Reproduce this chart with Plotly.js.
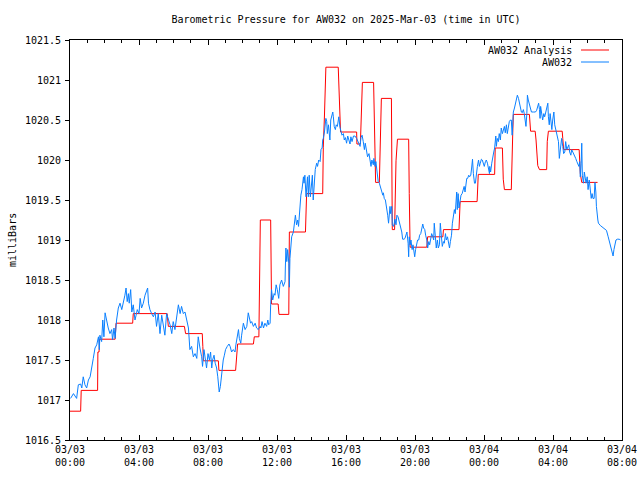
<!DOCTYPE html>
<html>
<head>
<meta charset="utf-8">
<script src="https://cdn.plot.ly/plotly-3.0.1.min.js"></script>
<style>html,body{margin:0;padding:0;background:#fff;}#chart{width:640px;height:480px;}</style>
</head>
<body>
<div id="chart"></div>
<script>
// Observations (AW032): minutes after 2025-03-03 00:00 UTC, pressure in mb
const obsMin = [2,12,23,29,37,41,46,52,58,64,70,75,81,87,93,99,102,104,110,114,118,122,128,133,139,145,148,153,157,162,168,174,180,186,191,195,199,203,206,211,215,220,226,230,234,240,244,249,255,261,267,270,273,278,284,290,296,301,307,313,319,325,330,336,342,348,354,359,365,371,377,383,388,394,400,406,412,417,423,429,435,441,446,452,458,461,466,472,475,480,485,
489,493,496,501,505,510,514,516,519,523,526,530,533,537,541,547,553,557,562,568,574,577,582,586,589,594,597,603,609,615,620,624,628,632,638,644,649,655,661,664,668,673,678,684,688,691,696,698,701,705,710,713,717,721,726,730,736,742,748,
749,751,754,757,761,763,765,768,771,777,780,784,788,792,795,800,803,807,812,814,817,821,823,826,829,832,836,839,843,846,850,853,858,861,865,870,873,877,879,881,885,888,890,893,895,899,902,904,907,910,914,916,919,923,926,930,935,939,943,946,951,954,958,962,966,969,974,977,981,986,991,997,1003,1009,1012,1016,1020,1024,1027,1032,1035,1040,1044,1047,1050,1055,1057,1061,1064,1069,1072,
1076,1081,1084,1088,1090,1093,1097,1101,1105,1108,1111,1113,1115,1119,1121,1125,1128,1130,1134,1137,1141,1144,1148,1150,1154,1157,1162,1165,1169,1172,1176,1178,1180,1183,1186,1190,1193,1197,1199,1202,1206,1209,1213,1216,1220,1223,1227,1230,1234,1237,1241,1244,1248,1251,1255,1258,1262,1265,1267,1271,1274,1278,1281,1285,1288,1292,1295,1299,1302,1306,1309,1313,1316,1320,1323,1327,1330,1333,1337,1340,1343,1345,1347,1350,1353,1357,1360,1364,1367,1371,1374,1378,1380,1383,1387,1390,1394,1397,1400,1403,1407,1410,1414,1417,1421,1424,1427,1431,1434,1438,1441,1445,1448,1452,1455,1459,
1460,1463,1467,1470,1474,1477,1481,1483,1486,1490,1493,1497,1500,1504,1507,1511,1514,1518,1521,1525,1528,1532,1535,1538,1540,1542,1546,1549,1553,1556,1560,1563,1567,1570,1573,1577,1580,1584,1586,1589,1591,1594,1598,1601,1605,1612,1619,1623,1627,1630,1633,1635,1637,1641,1644,1648,1651,1655,1658,1662,1664,1667,1670,1672,1676,1679,1683,1686,1689,1693,1695,1699,1702,1705,1707,1710,1714,1717,1721,1724,1728,1731,1735,1738,1742,1745,1749,1752,1756,1759,1763,1766,1770,1773,1775,1778,1780,1782,1786,1789,1795,1799,1802,1806,1809,1813,1816,1819,1823,1826,1829,1831,1836,1838,1845,1852,1859,1866,1872,1878,1882,1886,1889,1892,1896,1899,1904,1910,1915];
const obsVal = [1017.02,1017.08,1017.02,1017.19,1017.20,1017.15,1017.29,1017.19,1017.15,1017.25,1017.29,1017.42,1017.52,1017.65,1017.69,1017.79,1017.63,1017.81,1017.73,1018.00,1017.79,1018.09,1017.96,1017.90,1017.83,1017.88,1017.75,1017.90,1017.77,1018.00,1018.15,1018.21,1018.13,1018.21,1018.31,1018.40,1018.23,1018.33,1018.21,1018.38,1018.10,1018.19,1018.00,1018.06,1018.13,1018.08,1018.27,1018.15,1018.21,1018.31,1018.38,1018.40,1018.21,1018.13,1018.08,1018.04,1018.10,1017.92,1018.08,1017.83,1018.06,1017.90,1017.81,1018.08,1018.02,1017.94,1017.83,1017.98,1017.88,1018.04,1018.19,1018.08,1018.17,1018.08,1018.10,1018.00,1017.90,1017.63,1017.67,1017.54,1017.58,1017.52,1017.79,1017.65,1017.54,1017.42,1017.63,1017.48,1017.40,1017.58,1017.50,
1017.60,1017.40,1017.50,1017.56,1017.46,1017.40,1017.29,1017.17,1017.10,1017.17,1017.29,1017.40,1017.50,1017.56,1017.63,1017.67,1017.70,1017.67,1017.60,1017.63,1017.60,1017.69,1017.81,1017.88,1017.77,1017.71,1017.81,1017.96,1017.88,1017.92,1018.09,1018.04,1017.96,1017.98,1017.92,1017.96,1017.90,1017.88,1017.92,1017.90,1017.98,1017.90,1017.96,1017.92,1018.00,1017.94,1017.96,1018.19,1018.38,1018.25,1018.33,1018.31,1018.44,1018.38,1018.27,1018.44,1018.50,1018.42,1018.48,
1018.65,1018.90,1018.73,1018.88,1018.71,1018.41,1018.77,1018.92,1019.04,1019.10,1019.17,1019.31,1019.19,1019.25,1019.17,1019.42,1019.56,1019.63,1019.79,1019.71,1019.81,1019.54,1019.65,1019.79,1019.54,1019.81,1019.54,1019.71,1019.81,1019.50,1019.73,1019.88,1019.96,1019.92,1020.00,1019.98,1020.13,1020.15,1020.25,1020.27,1020.35,1020.44,1020.52,1020.48,1020.33,1020.44,1020.31,1020.25,1020.50,1020.54,1020.60,1020.54,1020.42,1020.38,1020.44,1020.42,1020.54,1020.41,1020.35,1020.31,1020.33,1020.25,1020.28,1020.21,1020.30,1020.25,1020.20,1020.29,1020.23,1020.30,1020.30,1020.27,1020.23,1020.17,1020.28,1020.31,1020.23,1020.13,1020.21,1020.13,1020.04,1020.08,1020.00,1019.92,1020.00,1019.94,1020.02,1019.92,1019.98,1019.83,1019.73,
1019.71,1019.65,1019.60,1019.56,1019.59,1019.52,1019.50,1019.42,1019.31,1019.21,1019.42,1019.42,1019.33,1019.42,1019.19,1019.17,1019.21,1019.26,1019.19,1019.31,1019.29,1019.25,1019.21,1019.17,1019.10,1019.01,1019.01,1019.02,1019.08,1019.10,1018.96,1018.79,1019.04,1018.94,1019.00,1018.88,1018.94,1018.83,1018.79,1018.88,1018.96,1019.00,1019.00,1019.06,1019.08,1019.15,1019.20,1019.15,1019.13,1019.06,1019.00,1018.90,1018.98,1018.94,1019.00,1019.08,1019.04,1019.00,1019.21,1018.98,1018.90,1019.00,1018.90,1018.94,1019.21,1019.04,1018.92,1018.98,1018.96,1019.08,1019.00,1019.04,1018.96,1018.90,1018.98,1019.06,1019.21,1019.29,1019.38,1019.33,1019.46,1019.60,1019.38,1019.58,1019.40,1019.50,1019.56,1019.58,1019.63,1019.67,1019.60,1019.69,1019.77,1019.77,1019.81,1019.79,1019.81,1019.90,1020.01,1019.83,1019.71,1019.71,1019.88,1019.92,1020.00,1019.92,1019.96,1020.01,1020.00,1019.96,1019.92,1019.98,1020.00,1019.96,1019.90,1019.83,
1019.92,1019.85,1019.96,1020.04,1020.10,1020.15,1020.30,1020.17,1020.27,1020.23,1020.33,1020.25,1020.40,1020.33,1020.38,1020.42,1020.34,1020.44,1020.33,1020.44,1020.48,1020.50,1020.50,1020.31,1020.44,1020.60,1020.65,1020.69,1020.75,1020.81,1020.77,1020.71,1020.67,1020.60,1020.59,1020.63,1020.58,1020.50,1020.42,1020.58,1020.81,1020.75,1020.69,1020.63,1020.60,1020.60,1020.60,1020.62,1020.67,1020.71,1020.63,1020.52,1020.67,1020.58,1020.50,1020.58,1020.54,1020.60,1020.67,1020.71,1020.54,1020.44,1020.58,1020.48,1020.38,1020.50,1020.60,1020.44,1020.38,1020.35,1020.27,1020.23,1020.02,1020.15,1020.13,1020.27,1020.17,1020.08,1020.10,1020.23,1020.13,1020.17,1020.19,1020.10,1020.06,1020.13,1020.10,1020.08,1020.06,1020.02,1019.98,1019.96,1019.92,1019.98,1019.79,1019.96,1020.21,1019.81,1019.71,1019.85,1019.71,1019.79,1019.63,1019.75,1019.65,1019.52,1019.58,1019.52,1019.52,1019.72,1019.60,1019.42,1019.25,1019.21,1019.18,1019.16,1019.14,1019.12,1019.04,1018.96,1018.88,1018.82,1018.80,1018.88,1018.95,1019.00,1019.01,1019.01,1019.00];

// Analysis (AW032 Analysis): minutes after 2025-03-03 00:00 UTC, pressure in mb
const anaMin = [0,37,39,96,97,101,103,157,160,218,220,338,342,398,402,460,462,464,516,518,576,580,583,638,641,657,659,662,698,699,701,724,727,761,763,819,821,823,879,881,885,890,933,935,939,941,997,998,1010,1012,1015,1017,1056,1058,1063,1076,1080,1083,1118,1119,1121,1129,1131,1134,1139,1178,1180,1183,1241,1242,1244,1297,1299,1353,1357,1416,1420,1477,1479,1504,1507,1511,1535,1540,1542,1598,1602,1618,1621,1627,1633,1658,1660,1664,1712,1714,1717,1771,1775,1780,1835];
const anaVal = [1016.86,1016.86,1017.12,1017.12,1017.60,1017.60,1017.76,1017.76,1017.96,1017.96,1018.08,1018.08,1017.92,1017.92,1017.83,1017.83,1017.67,1017.49,1017.49,1017.37,1017.37,1017.63,1017.70,1017.70,1017.79,1017.79,1018.55,1019.25,1019.25,1018.73,1018.20,1018.20,1018.07,1018.07,1019.10,1019.10,1019.34,1019.58,1019.58,1020.16,1020.55,1021.16,1021.16,1020.96,1020.40,1020.35,1020.35,1020.20,1020.20,1020.38,1020.77,1020.97,1020.97,1020.67,1019.72,1019.72,1020.51,1020.77,1020.77,1019.96,1019.13,1019.13,1019.45,1019.99,1020.26,1020.26,1019.58,1018.91,1018.91,1018.98,1019.04,1019.04,1019.13,1019.13,1019.48,1019.48,1019.82,1019.82,1020.15,1020.15,1019.76,1019.63,1019.63,1020.34,1020.57,1020.57,1020.36,1020.36,1020.25,1019.93,1019.88,1019.88,1020.23,1020.36,1020.36,1020.27,1020.13,1020.13,1019.83,1019.72,1019.72];

const tickHours = [0,4,8,12,16,20,24,28,32];
const tickLabels = ['03/03<br>00:00','03/03<br>04:00','03/03<br>08:00','03/03<br>12:00','03/03<br>16:00','03/03<br>20:00','03/04<br>00:00','03/04<br>04:00','03/04<br>08:00'];
const seriesNames = ['AW032 Analysis','AW032'];
const seriesColors = ['#ff0000','#0a80ff'];

const base = Date.UTC(2025,2,3,0,0,0);
const toDate = m => new Date(base + m*60000).toISOString().slice(0,19).replace('T',' ');

const FONT = 'DejaVu Sans Mono, Liberation Mono, monospace';

const traces = [
  {x: anaMin.map(toDate), y: anaVal, type:'scatter', mode:'lines', name: seriesNames[0],
   line:{color: seriesColors[0], width:1}, showlegend:false},
  {x: obsMin.map(toDate), y: obsVal, type:'scatter', mode:'lines', name: seriesNames[1],
   line:{color: seriesColors[1], width:1}, showlegend:false}
];

const legY = [0.975, 0.945];
const layout = {
  width:640, height:480,
  margin:{l:70, r:18, t:40, b:40, pad:0},
  paper_bgcolor:'#fff', plot_bgcolor:'#fff',
  separators:'.,',
  font:{family:FONT, size:10, color:'#000'},
  title:{text:'Barometric Pressure for AW032 on 2025-Mar-03 (time in UTC)', font:{family:FONT, size:10, color:'#000'},
         x:0.5, xref:'paper', xanchor:'center', y:1-19/480, yref:'container', yanchor:'middle'},
  xaxis:{type:'date', range:[toDate(0), toDate(1920)], tickmode:'array',
         tickvals: tickHours.map(h=>toDate(h*60)), ticktext: tickLabels,
         ticks:'inside', ticklen:5, tickcolor:'#000', tickwidth:1,
         minor:{dtick:3600000, ticks:'inside', ticklen:3, tickcolor:'#000', tickwidth:1},
         showline:true, linecolor:'#000', linewidth:1, mirror:'ticks',
         showgrid:false, zeroline:false, tickfont:{family:FONT, size:10}, fixedrange:true},
  yaxis:{range:[1016.5,1021.5], dtick:0.5, tick0:1016.5, tickformat:'.1~f', ticks:'outside', ticklen:4, tickcolor:'#000',
         showline:true, linecolor:'#000', linewidth:1, mirror:true,
         showgrid:false, zeroline:false, tickfont:{family:FONT, size:10}, ticklabelstandoff:2},
  yaxis2:{range:[1016.5,1021.5], dtick:0.5, tick0:1016.5, overlaying:'y', side:'right', ticks:'inside', ticklen:4,
          tickcolor:'#000', showticklabels:false, showgrid:false, zeroline:false, showline:false},
  annotations:[
    {xref:'paper', yref:'paper', x:(12-70)/552, y:0.5, text:'milliBars', textangle:-90, showarrow:false,
     xanchor:'center', yanchor:'middle', font:{family:FONT, size:10}},
    {xref:'paper', yref:'paper', x:(574-70)/552, y:legY[0], text:seriesNames[0], showarrow:false,
     xanchor:'right', yanchor:'middle', font:{family:FONT, size:10}},
    {xref:'paper', yref:'paper', x:(574-70)/552, y:legY[1], text:seriesNames[1], showarrow:false,
     xanchor:'right', yanchor:'middle', font:{family:FONT, size:10}}
  ],
  shapes:[
    {type:'line', xref:'paper', yref:'paper', x0:(581-70)/552, x1:(609-70)/552, y0:legY[0], y1:legY[0], line:{color:seriesColors[0], width:1}},
    {type:'line', xref:'paper', yref:'paper', x0:(581-70)/552, x1:(609-70)/552, y0:legY[1], y1:legY[1], line:{color:seriesColors[1], width:1}}
  ],
  showlegend:false
};

Plotly.newPlot('chart', traces, layout, {staticPlot:true, displayModeBar:false});
</script>
</body>
</html>
